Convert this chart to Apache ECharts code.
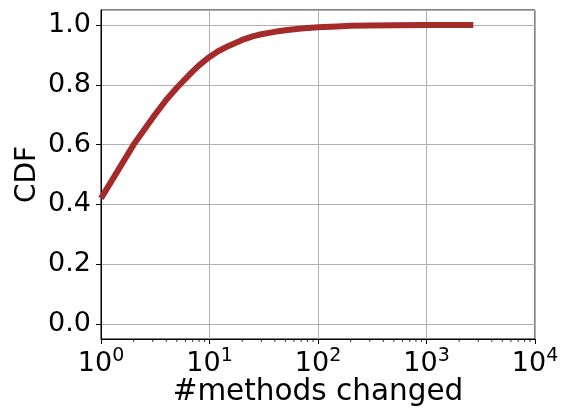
<!DOCTYPE html>
<html lang="en">
<head>
    <meta charset="UTF-8">
    <title>CDF of methods changed</title>
    <script src="https://cdn.jsdelivr.net/npm/echarts@6/dist/echarts.min.js"></script>
    <style>
        html, body { margin: 0; padding: 0; background: #fff; }
    </style>
</head>
<body>
    <div id="main" style="width: 561px;height:409px;"></div>
    <script type="text/javascript">
        // data
        var methodsChanged = [1, 2, 3, 4, 5, 6, 7, 8, 9, 10, 12, 15, 20, 25, 30, 40, 50, 70, 100, 150, 200, 300, 500, 1000, 2000, 2700];
        var cdfValues = [0.42, 0.60, 0.69, 0.75, 0.79, 0.82, 0.845, 0.865, 0.88, 0.893, 0.912, 0.93, 0.95, 0.962, 0.969, 0.977, 0.982, 0.988, 0.992, 0.995, 0.997, 0.998, 0.999, 1.0, 1.0, 1.0];
        var xTickExp = ['0', '1', '2', '3', '4'];
        var minorTicks = [2, 3, 4, 5, 6, 7, 8, 9, 20, 30, 40, 50, 60, 70, 80, 90,
            200, 300, 400, 500, 600, 700, 800, 900, 2000, 3000, 4000, 5000, 6000, 7000, 8000, 9000];

        var font = 'DejaVu Sans';
        var lineData = methodsChanged.map(function (v, i) { return [v, cdfValues[i]]; });

        var myChart = echarts.init(document.getElementById('main'));
        myChart.setOption({
            animation: false,
            grid: {
                left: 101, right: 26, top: 10, bottom: 70,
                outerBoundsMode: 'none',
                containLabel: false,
                show: true, borderColor: '#000', borderWidth: 1, backgroundColor: 'transparent'
            },
            xAxis: {
                type: 'log',
                logBase: 10,
                min: 1,
                max: 10000,
                name: '#methods changed',
                nameLocation: 'middle',
                nameGap: 38,
                nameMoveOverlap: false,
                nameTextStyle: { fontFamily: font, fontSize: 29.5, color: '#000' },
                axisLine: { show: true, onZero: false, lineStyle: { color: '#000', width: 1 } },
                axisTick: { show: true, inside: false, length: 5, lineStyle: { color: '#000' } },
                splitLine: { show: true, lineStyle: { color: '#b0b0b0', width: 1 } },
                axisLabel: {
                    margin: 8,
                    formatter: function (value) {
                        var e = Math.round(Math.log10(value));
                        return '{b|10}{s|' + xTickExp[e] + '}';
                    },
                    rich: {
                        b: { fontFamily: font, fontSize: 27, color: '#000', lineHeight: 30, verticalAlign: 'bottom' },
                        s: { fontFamily: font, fontSize: 19, color: '#000', lineHeight: 30, verticalAlign: 'top', padding: [0, 0, 10, 0] }
                    }
                }
            },
            yAxis: {
                type: 'value',
                min: -0.05,
                max: 1.05,
                splitNumber: 5,
                name: 'CDF',
                nameLocation: 'middle',
                nameGap: 59,
                nameMoveOverlap: false,
                nameTextStyle: { fontFamily: font, fontSize: 28, color: '#000' },
                axisLine: { show: true, onZero: false, lineStyle: { color: '#000', width: 1 } },
                axisTick: { show: true, inside: false, length: 5, lineStyle: { color: '#000' } },
                splitLine: { show: true, lineStyle: { color: '#b0b0b0', width: 1 } },
                axisLabel: {
                    margin: 10,
                    showMinLabel: false,
                    showMaxLabel: false,
                    fontFamily: font, fontSize: 27, color: '#000',
                    formatter: function (v) { return v.toFixed(1); }
                }
            },
            series: [
                {
                    type: 'line',
                    data: lineData,
                    showSymbol: false,
                    smooth: false,
                    lineStyle: { color: '#a52a2a', width: 6 },
                    z: 5
                },
                {
                    // minor ticks of the log axis at 2..9 x 10^k
                    type: 'custom',
                    data: minorTicks,
                    silent: true,
                    clip: false,
                    renderItem: function (params, api) {
                        var p = api.coord([api.value(0), -0.05]);
                        return {
                            type: 'line',
                            shape: { x1: p[0], y1: p[1], x2: p[0], y2: p[1] + 3 },
                            style: { stroke: '#000', lineWidth: 0.8 }
                        };
                    },
                    encode: { x: 0 }
                }
            ]
        });
    </script>
</body>
</html>
